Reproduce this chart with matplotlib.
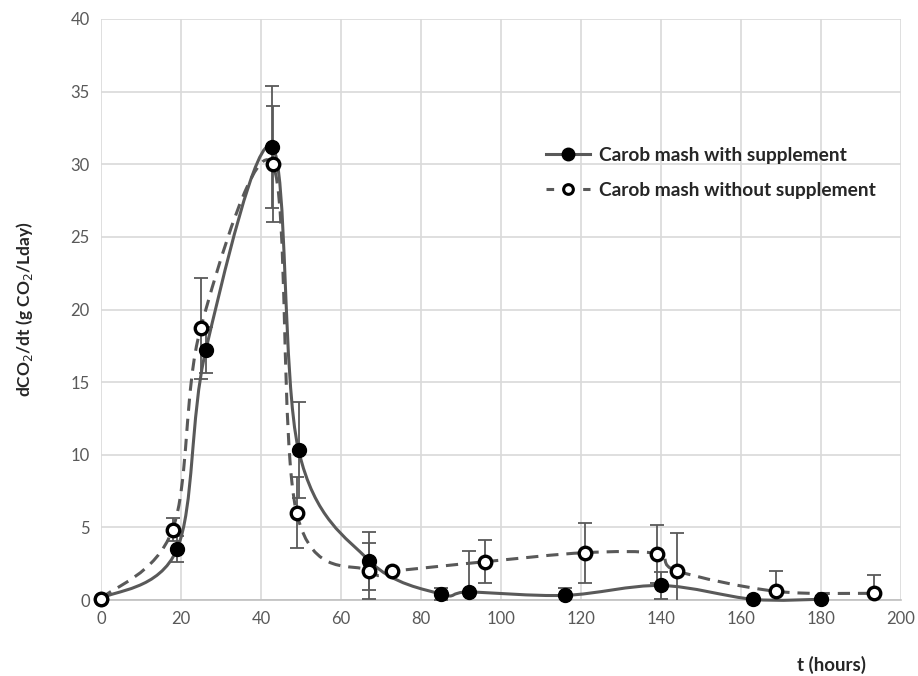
import numpy as np
import matplotlib
matplotlib.use("Agg")
import matplotlib.pyplot as plt
from matplotlib.path import Path
from matplotlib.patches import PathPatch
from matplotlib.lines import Line2D

plt.rcParams['font.family'] = ['Lato', 'DejaVu Sans']

# carob mash with supplement
t_with   = [0, 19, 26.2, 42.8, 49.4, 67.1, 85, 92, 116, 140, 163, 180]
y_with   = [0.1, 3.5, 17.2, 31.2, 10.3, 2.7, 0.4, 0.55, 0.32, 1.0, 0.05, 0.05]
err_with = [0, 0.9, 1.6, 4.2, 3.3, 2.0, 0.4, 2.8, 0.5, 0.9, 0.1, 0]

# carob mash without supplement
t_wo   = [0, 17.9, 24.9, 42.9, 48.9, 67.1, 72.8, 96.1, 121, 139, 144, 168.7, 193.2]
y_wo   = [0.1, 4.85, 18.7, 30.0, 6.0, 2.0, 2.0, 2.64, 3.26, 3.19, 2.0, 0.6, 0.46]
err_wo = [0, 0.8, 3.5, 4.0, 2.45, 1.95, 0, 1.5, 2.07, 2.0, 2.6, 1.4, 1.25]

LINE = "#595959"


def smooth_path(x, y):
    # Excel-like smoothed line: cubic Bezier with Catmull-Rom control points
    pts = np.column_stack([x, y]).astype(float)
    n = len(pts)
    verts = [pts[0]]
    codes = [Path.MOVETO]
    for i in range(n - 1):
        p0 = pts[i - 1] if i > 0 else pts[i]
        p1 = pts[i]
        p2 = pts[i + 1]
        p3 = pts[i + 2] if i + 2 < n else pts[i + 1]
        c1 = p1 + (p2 - p0) / 6.0
        c2 = p2 - (p3 - p1) / 6.0
        verts += [c1, c2, p2]
        codes += [Path.CURVE4] * 3
    return Path(verts, codes)


fig = plt.figure(figsize=(9.18, 6.76), dpi=100)
ax = fig.add_axes([0.110, 0.1124, 0.8715, 0.8595])

ax.set_xlim(0, 200)
ax.set_ylim(0, 40)
ax.set_xticks(range(0, 201, 20))
ax.set_yticks(range(0, 41, 5))
ax.grid(True, color="#d9d9d9", linewidth=1.2)
ax.set_axisbelow(True)
for s in ["top", "right", "left"]:
    ax.spines[s].set_visible(False)
ax.spines["bottom"].set_color("#bfbfbf")
ax.spines["bottom"].set_linewidth(1.2)
ax.tick_params(length=0, colors="#595959", labelsize=12, pad=8)

# curves
ax.add_patch(PathPatch(smooth_path(t_with, y_with), fill=False, edgecolor=LINE,
                       linewidth=2.2, zorder=3, clip_on=False))
ax.add_patch(PathPatch(smooth_path(t_wo, y_wo), fill=False, edgecolor=LINE,
                       linewidth=2.2, linestyle=(0, (4, 2.6)), zorder=3, clip_on=False))

# error bars (upper and lower)
ax.errorbar(t_with, y_with, yerr=err_with, fmt="none", ecolor=LINE, elinewidth=1.3,
            capsize=5, capthick=1.3, zorder=4)
ax.errorbar(t_wo, y_wo, yerr=err_wo, fmt="none", ecolor=LINE, elinewidth=1.3,
            capsize=5, capthick=1.3, zorder=4)

# markers
ax.plot(t_with, y_with, "o", color="black", markersize=10, zorder=6, clip_on=False)
ax.plot(t_wo, y_wo, "o", markerfacecolor="white", markeredgecolor="black",
        markeredgewidth=2.4, markersize=9, zorder=6, clip_on=False)

# legend
h1 = Line2D([], [], color=LINE, linewidth=2.2, marker="o", markersize=9,
            markerfacecolor="black", markeredgecolor="black")
h2 = Line2D([], [], color=LINE, linewidth=2.2, linestyle=(0, (2.5, 3.5)), marker="o",
            markersize=7, markerfacecolor="white", markeredgecolor="black",
            markeredgewidth=2.2)
leg = ax.legend([h1, h2], ["Carob mash with supplement", "Carob mash without supplement"],
                loc="upper left", bbox_to_anchor=(0.535, 0.81), frameon=False,
                handlelength=2.3, handletextpad=0.45, labelspacing=0.95,
                prop={"weight": "bold", "size": 13.8})
for txt in leg.get_texts():
    txt.set_color("#262626")

ax.set_ylabel("dCO$_2$/dt (g CO$_2$/Lday)", fontsize=12.5, fontweight="bold",
              color="#262626", labelpad=26)
fig.text(0.906, 0.016, "t (hours)", fontsize=13.5, fontweight="bold",
         color="#262626", ha="center", va="center")

fig.savefig("out.png", dpi=100)
